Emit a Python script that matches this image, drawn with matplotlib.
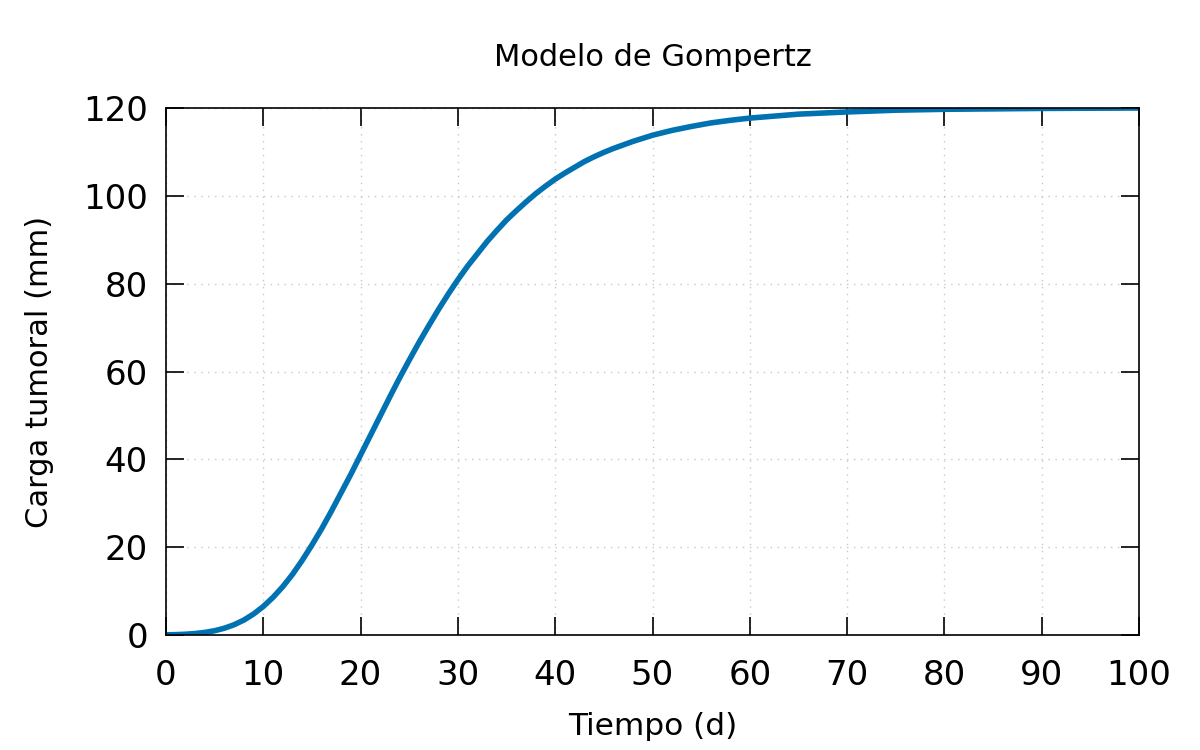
import matplotlib
matplotlib.use("Agg")
import matplotlib.pyplot as plt

# Values
tiempo = list(range(0, 51)) + [52, 54, 56, 58, 60, 65, 70, 75, 80, 85, 90, 95, 100]
carga = [0.05, 0.09, 0.18, 0.34, 0.6, 0.98, 1.55, 2.34, 3.4, 4.78,
         6.5, 8.57, 11.0, 13.8, 17.0, 20.5, 24.2, 28.2, 32.4, 36.6,
         41.0, 45.4, 49.8, 54.2, 58.5, 62.6, 66.6, 70.4, 74.1, 77.6,
         80.9, 84.0, 86.8, 89.6, 92.1, 94.5, 96.6, 98.6, 100.5, 102.2,
         103.8, 105.2, 106.5, 107.8, 108.9, 109.9, 110.8, 111.6, 112.4, 113.1,
         113.8, 114.9, 115.8, 116.6, 117.2, 117.7, 118.6, 119.1, 119.5, 119.7,
         119.8, 119.9, 119.95, 120.0]

xticks = [0, 10, 20, 30, 40, 50, 60, 70, 80, 90, 100]
yticks = [0, 20, 40, 60, 80, 100, 120]

plt.rcParams['font.family'] = ['DejaVu Sans']

fig = plt.figure(figsize=(12, 7.5), dpi=100)
ax = fig.add_axes([0.1383, 0.1533, 0.8109, 0.7027])

ax.plot(tiempo, carga, color='#0072B2', linewidth=4.0, solid_capstyle='butt',
        solid_joinstyle='round')

ax.set_xlim(0, 100)
ax.set_ylim(0, 120)
ax.set_xticks(xticks)
ax.set_yticks(yticks)

ax.grid(True, color='#c8c8c8', linestyle=(0, (1, 4)), linewidth=1.0)
ax.set_axisbelow(True)

ax.tick_params(direction='in', length=13, width=1.2, top=True, right=True,
               labelsize=24.5)
ax.tick_params(axis='x', pad=17)
ax.tick_params(axis='y', pad=13)
for s in ax.spines.values():
    s.set_linewidth(1.2)

ax.set_title('Modelo de Gompertz', fontsize=22, pad=30)
ax.set_xlabel('Tiempo (d)', fontsize=22.5, labelpad=15)
ax.set_ylabel('Carga tumoral (mm)', fontsize=22, labelpad=21)

fig.savefig('out.png', dpi=100)
